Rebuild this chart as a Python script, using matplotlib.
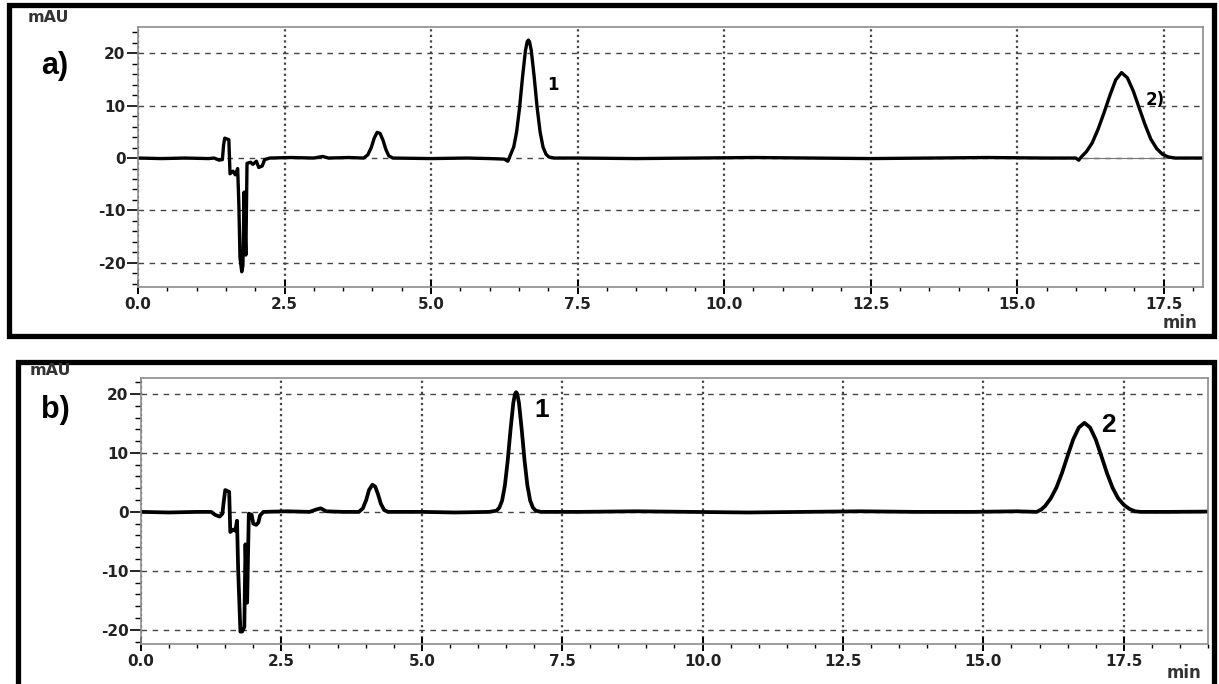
import matplotlib
matplotlib.use("Agg")
import matplotlib.pyplot as plt
from matplotlib.patches import Rectangle
from matplotlib.ticker import MultipleLocator, FormatStrFormatter

plt.rcParams["axes.unicode_minus"] = False

# chromatogram a) : (time min, signal mAU)
trace_a = [
    (0.00, 0.0), (0.40, -0.1), (0.80, 0.0), (1.20, -0.1), (1.30, 0.0), (1.38, -0.4), (1.44, -0.3),
    (1.46, 2.5), (1.48, 3.8), (1.55, 3.5), (1.57, -3.0), (1.62, -2.5), (1.66, -3.2), (1.70, -2.0),
    (1.72, -8.5), (1.74, -19.0), (1.77, -21.7), (1.79, -20.5), (1.81, -6.5), (1.84, -18.5),
    (1.86, -1.0), (1.92, -0.8), (1.96, -1.2), (2.02, -0.6), (2.06, -1.8), (2.12, -1.5), (2.16, -0.3),
    (2.25, 0.0), (2.60, 0.1), (3.00, 0.0), (3.15, 0.3), (3.25, 0.0), (3.60, 0.1), (3.85, 0.0),
    (3.92, 0.6), (3.98, 2.0), (4.03, 3.8), (4.08, 4.9), (4.13, 4.7), (4.18, 3.4), (4.23, 1.6),
    (4.28, 0.4), (4.35, 0.0), (5.00, -0.1), (5.60, 0.0), (6.00, -0.1), (6.25, -0.2), (6.31, -0.6),
    (6.36, 0.75), (6.41, 2.1), (6.46, 5.0), (6.51, 9.6), (6.56, 15.4), (6.61, 20.5), (6.64, 22.2),
    (6.66, 22.5), (6.68, 22.2), (6.71, 20.5), (6.76, 15.4), (6.81, 9.6), (6.86, 5.0), (6.91, 2.1),
    (6.96, 0.75), (7.01, 0.2), (7.10, 0.0), (7.50, 0.0), (8.50, -0.1), (9.50, 0.0), (10.50, 0.1),
    (11.50, 0.0), (12.50, -0.1), (13.50, 0.0), (14.50, 0.1), (15.50, 0.0), (16.00, 0.0),
    (16.05, -0.4), (16.10, 0.3), (16.18, 1.2), (16.28, 2.9), (16.38, 5.5), (16.48, 8.6),
    (16.58, 11.9), (16.68, 14.9), (16.78, 16.3), (16.88, 15.3), (16.98, 12.8), (17.08, 9.6),
    (17.18, 6.4), (17.28, 3.6), (17.38, 1.8), (17.48, 0.7), (17.58, 0.2), (17.70, 0.0), (18.20, 0.0),
]

# chromatogram b)
trace_b = [
    (0.00, 0.0), (0.50, -0.1), (1.00, 0.0), (1.25, 0.0), (1.32, -0.5), (1.40, -0.8), (1.45, -0.3),
    (1.47, 1.5), (1.50, 3.7), (1.57, 3.4), (1.59, -3.4), (1.64, -3.0), (1.68, -3.2), (1.71, -1.5),
    (1.73, -9.8), (1.77, -20.3), (1.80, -20.3), (1.84, -19.5), (1.86, -5.5), (1.89, -15.4),
    (1.92, -0.3), (1.97, -0.5), (2.00, -2.0), (2.05, -2.2), (2.09, -1.8), (2.12, -0.6), (2.18, 0.0),
    (2.60, 0.1), (3.00, 0.0), (3.12, 0.4), (3.20, 0.6), (3.30, 0.1), (3.60, 0.0), (3.88, 0.0),
    (3.95, 0.6), (4.01, 2.0), (4.06, 3.7), (4.12, 4.6), (4.17, 4.3), (4.22, 3.0), (4.27, 1.4),
    (4.33, 0.3), (4.40, 0.0), (5.00, 0.0), (5.60, -0.1), (6.20, 0.0),
    (6.33, 0.2), (6.38, 0.7), (6.43, 1.9), (6.48, 4.5), (6.53, 8.7), (6.58, 13.9), (6.63, 18.5),
    (6.66, 20.0), (6.68, 20.3), (6.70, 20.0), (6.73, 18.5), (6.78, 13.9), (6.83, 8.7), (6.88, 4.5),
    (6.93, 1.9), (6.98, 0.7), (7.03, 0.2), (7.12, 0.0), (7.80, 0.0), (8.80, 0.1), (9.80, 0.0),
    (10.80, -0.1), (11.80, 0.0), (12.80, 0.1), (13.80, 0.0), (14.80, 0.0), (15.60, 0.1), (15.95, 0.0),
    (16.03, 0.4), (16.10, 1.0), (16.20, 2.3), (16.30, 4.1), (16.40, 6.6), (16.50, 9.5), (16.60, 12.3),
    (16.70, 14.3), (16.80, 15.1), (16.90, 14.3), (17.00, 12.3), (17.10, 9.5), (17.20, 6.6),
    (17.30, 4.1), (17.40, 2.3), (17.50, 1.2), (17.60, 0.5), (17.70, 0.1), (17.80, 0.0),
    (18.30, 0.0), (19.00, 0.05),
]

# peak labels: (text, x, y)
labels_a = [("1", 7.08, 13.9), ("2)", 17.36, 11.0)]
labels_b = [("1", 7.13, 17.3), ("2", 17.22, 14.7)]

W, H = 1219, 684


def fig_box(fig, x0, y0, x1, y1):
    # pixel coords from the top-left corner
    r = Rectangle((x0 / W, 1 - y1 / H), (x1 - x0) / W, (y1 - y0) / H,
                  transform=fig.transFigure, fill=False, lw=3.8, ec="black", clip_on=False)
    fig.patches.append(r)


def setup_axes(ax, xmax, ymin, ymax):
    ax.set_xlim(0, xmax)
    ax.set_ylim(ymin, ymax)
    ax.xaxis.set_major_locator(MultipleLocator(2.5))
    ax.xaxis.set_minor_locator(MultipleLocator(0.5))
    ax.yaxis.set_major_locator(MultipleLocator(10))
    ax.yaxis.set_minor_locator(MultipleLocator(2))
    ax.xaxis.set_major_formatter(FormatStrFormatter("%.1f"))
    ax.tick_params(axis="y", which="major", direction="out", length=8, width=1.2, labelsize=11, pad=1)
    ax.tick_params(axis="y", which="minor", direction="out", length=4, width=1)
    ax.tick_params(axis="x", which="major", direction="inout", length=10, width=1.4, labelsize=11, pad=2)
    ax.tick_params(axis="x", which="minor", direction="out", length=3, width=1)
    for lab in ax.get_xticklabels() + ax.get_yticklabels():
        lab.set_fontweight("bold")
        lab.set_color("#222222")
    for s in ax.spines.values():
        s.set_color("#8c8c8c")
        s.set_linewidth(1.2)
    ax.yaxis.grid(True, which="major", ls=(0, (4, 4)), color="#444444", lw=1)
    ax.xaxis.grid(True, which="major", ls=(0, (1, 1.5)), color="#444444", lw=1.6)
    ax.set_axisbelow(True)


def main():
    fig = plt.figure(figsize=(W / 100, H / 100), dpi=100)

    # panel a
    ax1 = fig.add_axes([138 / W, 1 - 287 / H, (1203 - 138) / W, (287 - 27) / H])
    setup_axes(ax1, 18.17, -24.6, 25.0)
    ta = [p[0] for p in trace_a]
    ya = [p[1] for p in trace_a]
    ax1.plot([16.05, 17.65], [0, 0], color="#777777", lw=0.8)
    ax1.plot(ta, ya, color="black", lw=2.4)
    for txt, x, y in labels_a:
        ax1.text(x, y, txt, fontsize=12, fontweight="bold", ha="center", va="center")

    # panel b
    ax2 = fig.add_axes([141 / W, 1 - 644 / H, (1208 - 141) / W, (644 - 378) / H])
    setup_axes(ax2, 19.0, -22.4, 22.7)
    tb = [p[0] for p in trace_b]
    yb = [p[1] for p in trace_b]
    ax2.plot(tb, yb, color="black", lw=2.7)
    for txt, x, y in labels_b:
        ax2.text(x, y, txt, fontsize=19, fontweight="bold", ha="center", va="center",
                 family="Liberation Sans")

    fig_box(fig, 9, 5, 1214, 336)
    fig_box(fig, 18, 362, 1214, 692)

    fig.text(48 / W, 1 - 17 / H, "mAU", fontsize=11.5, fontweight="bold", ha="center", va="center", color="#333333")
    fig.text(50 / W, 1 - 370 / H, "mAU", fontsize=11.5, fontweight="bold", ha="center", va="center", color="#333333")
    fig.text(1180 / W, 1 - 323 / H, "min", fontsize=12, fontweight="bold", ha="center", va="center", color="#333333")
    fig.text(1184 / W, 1 - 673 / H, "min", fontsize=12, fontweight="bold", ha="center", va="center", color="#333333")
    fig.text(55 / W, 1 - 66 / H, "a)", fontsize=22, fontweight="bold", ha="center", va="center",
             family="Liberation Sans")
    fig.text(55 / W, 1 - 410 / H, "b)", fontsize=22, fontweight="bold", ha="center", va="center",
             family="Liberation Sans")

    fig.savefig("out.png", dpi=100)


if __name__ == "__main__":
    main()
